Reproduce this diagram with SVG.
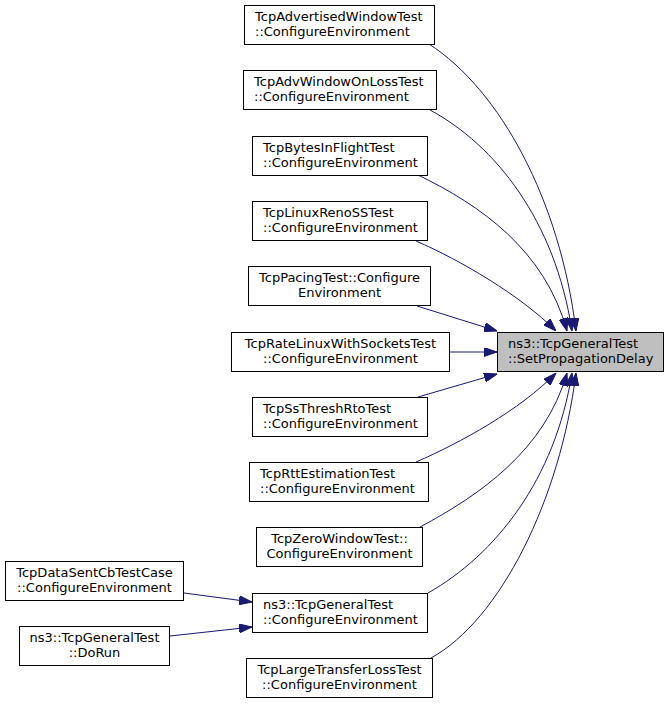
<svg xmlns="http://www.w3.org/2000/svg" width="669" height="704" viewBox="0 0 669 704">
<defs>
<style>
.n rect{fill:#ffffff;stroke:#000000;stroke-width:1}
.n.t rect{fill:#bfbfbf}
.n text{font-family:"DejaVu Sans","Liberation Sans",sans-serif;font-size:13px;fill:#000000}
.c{text-anchor:middle}
.e path{fill:none;stroke:#191970;stroke-width:1}
</style>
<marker id="ah" viewBox="0 0 13 9" refX="13" refY="4.5" markerWidth="13" markerHeight="9" markerUnits="userSpaceOnUse" orient="auto">
<path d="M0,0 L13,4.5 L0,9 z" fill="#191970" stroke="#191970"/>
</marker>
</defs>
<rect width="669" height="704" fill="#ffffff"/>
<g id="edges" class="e">
<path marker-end="url(#ah)" d="M429,44 C500,90 560,200 576,331"/>
<path marker-end="url(#ah)" d="M430,110 C495,145 555,220 572,331"/>
<path marker-end="url(#ah)" d="M418,175 C480,205 545,250 567,331"/>
<path marker-end="url(#ah)" d="M416,241 C460,260 520,295 556,331"/>
<path marker-end="url(#ah)" d="M417,306 L497,331"/>
<path marker-end="url(#ah)" d="M450,352 L497,352"/>
<path marker-end="url(#ah)" d="M418,397 L497,374"/>
<path marker-end="url(#ah)" d="M416,462 C460,443 520,410 556,373"/>
<path marker-end="url(#ah)" d="M420,527 C480,495 545,450 567,373"/>
<path marker-end="url(#ah)" d="M428,593 C495,555 555,480 572,373"/>
<path marker-end="url(#ah)" d="M431,658 C500,620 560,500 576,373"/>
<path marker-end="url(#ah)" d="M184,593 L252,602"/>
<path marker-end="url(#ah)" d="M170,636 L252,627"/>
</g>
<g id="target" class="n t">
<rect x="497.5" y="332.5" width="166" height="39"/>
<text x="508" y="348">ns3::TcpGeneralTest</text>
<text x="508" y="363">::SetPropagationDelay</text>
</g>
<g id="advertisedWindow" class="n">
<rect x="244.5" y="5.5" width="190" height="39"/>
<text x="255" y="21">TcpAdvertisedWindowTest</text>
<text x="255" y="36">::ConfigureEnvironment</text>
</g>
<g id="advWindowOnLoss" class="n">
<rect x="243.5" y="70.5" width="193" height="39"/>
<text x="254" y="86">TcpAdvWindowOnLossTest</text>
<text x="254" y="101">::ConfigureEnvironment</text>
</g>
<g id="bytesInFlight" class="n">
<rect x="252.5" y="136.5" width="175" height="39"/>
<text x="263" y="152">TcpBytesInFlightTest</text>
<text x="263" y="167">::ConfigureEnvironment</text>
</g>
<g id="linuxRenoSS" class="n">
<rect x="252.5" y="201.5" width="175" height="39"/>
<text x="263" y="217">TcpLinuxRenoSSTest</text>
<text x="263" y="232">::ConfigureEnvironment</text>
</g>
<g id="pacing" class="n">
<rect x="248.5" y="266.5" width="182" height="39"/>
<text class="c" x="339.5" y="282">TcpPacingTest::Configure</text>
<text class="c" x="339.5" y="297">Environment</text>
</g>
<g id="rateLinux" class="n">
<rect x="231.5" y="332.5" width="218" height="39"/>
<text class="c" x="340.5" y="348">TcpRateLinuxWithSocketsTest</text>
<text class="c" x="340.5" y="363">::ConfigureEnvironment</text>
</g>
<g id="ssThreshRto" class="n">
<rect x="252.5" y="397.5" width="175" height="39"/>
<text x="263" y="413">TcpSsThreshRtoTest</text>
<text x="263" y="428">::ConfigureEnvironment</text>
</g>
<g id="rttEstimation" class="n">
<rect x="249.5" y="462.5" width="179" height="39"/>
<text x="260" y="478">TcpRttEstimationTest</text>
<text x="260" y="493">::ConfigureEnvironment</text>
</g>
<g id="zeroWindow" class="n">
<rect x="256.5" y="527.5" width="166" height="39"/>
<text class="c" x="339.5" y="543">TcpZeroWindowTest::</text>
<text class="c" x="339.5" y="558">ConfigureEnvironment</text>
</g>
<g id="generalConfigure" class="n">
<rect x="252.5" y="593.5" width="175" height="39"/>
<text x="263" y="609">ns3::TcpGeneralTest</text>
<text x="263" y="624">::ConfigureEnvironment</text>
</g>
<g id="largeTransferLoss" class="n">
<rect x="246.5" y="658.5" width="186" height="39"/>
<text class="c" x="339.5" y="674">TcpLargeTransferLossTest</text>
<text class="c" x="339.5" y="689">::ConfigureEnvironment</text>
</g>
<g id="dataSentCb" class="n">
<rect x="5.5" y="561.5" width="178" height="39"/>
<text class="c" x="94.5" y="577">TcpDataSentCbTestCase</text>
<text class="c" x="94.5" y="592">::ConfigureEnvironment</text>
</g>
<g id="doRun" class="n">
<rect x="19.5" y="626.5" width="150" height="39"/>
<text class="c" x="94.5" y="642">ns3::TcpGeneralTest</text>
<text class="c" x="94.5" y="657">::DoRun</text>
</g>
</svg>
